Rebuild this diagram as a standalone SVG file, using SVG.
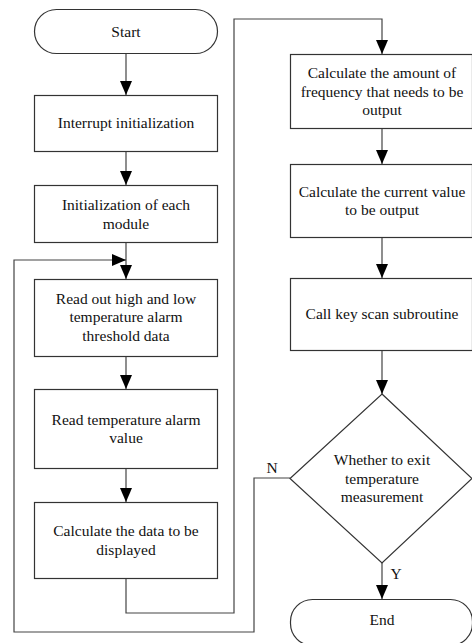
<svg xmlns="http://www.w3.org/2000/svg" width="472" height="643" viewBox="0 0 472 643">
<style>
.box{fill:#fff;stroke:#333;stroke-width:1.2}
.ln{fill:none;stroke:#444;stroke-width:1.2}
text{font-family:"Liberation Serif","Times New Roman",serif;font-size:15.5px;fill:#111;text-anchor:middle}
</style>
<defs>
<marker id="ah" markerUnits="userSpaceOnUse" markerWidth="14" markerHeight="12" refX="14" refY="6" orient="auto" viewBox="0 0 14 12">
<path d="M0,0 L14,6 L0,12 z" fill="#000"/>
</marker>
</defs>
<rect width="472" height="643" fill="#fff"/>
<g id="connectors">
<line class="ln" x1="126" y1="53" x2="126" y2="95" marker-end="url(#ah)"/>
<line class="ln" x1="126" y1="151" x2="126" y2="185" marker-end="url(#ah)"/>
<line class="ln" x1="126" y1="242" x2="126" y2="279" marker-end="url(#ah)"/>
<line class="ln" x1="126" y1="356" x2="126" y2="389" marker-end="url(#ah)"/>
<line class="ln" x1="126" y1="468" x2="126" y2="502" marker-end="url(#ah)"/>
<path class="ln" d="M126,578 V613 H234 V19 H382 V54" marker-end="url(#ah)"/>
<line class="ln" x1="382" y1="128" x2="382" y2="164" marker-end="url(#ah)"/>
<line class="ln" x1="382" y1="237" x2="382" y2="278" marker-end="url(#ah)"/>
<line class="ln" x1="382" y1="350" x2="382" y2="394" marker-end="url(#ah)"/>
<line class="ln" x1="382" y1="563" x2="382" y2="599" marker-end="url(#ah)"/>
<path class="ln" d="M290,478 H254 V632 H14 V260 H126" marker-end="url(#ah)"/>
<text x="272" y="473">N</text>
<text x="396" y="579">Y</text>
</g>
<g id="start">
<rect class="box" x="34.5" y="9.5" width="183" height="44" rx="22" ry="22"/>
<text x="126" y="37">Start</text>
</g>
<g id="interrupt">
<rect class="box" x="34.5" y="95.5" width="183" height="56"/>
<text x="126" y="128">Interrupt initialization</text>
</g>
<g id="init">
<rect class="box" x="34.5" y="185.5" width="183" height="57"/>
<text x="126" y="210">Initialization of each</text>
<text x="126" y="228.5">module</text>
</g>
<g id="readThreshold">
<rect class="box" x="34.5" y="279.5" width="183" height="77"/>
<text x="126" y="303.5">Read out high and low</text>
<text x="126" y="322">temperature alarm</text>
<text x="126" y="340.5">threshold data</text>
</g>
<g id="readAlarm">
<rect class="box" x="34.5" y="389.5" width="183" height="79"/>
<text x="126" y="424.5">Read temperature alarm</text>
<text x="126" y="443">value</text>
</g>
<g id="calcDisplay">
<rect class="box" x="34.5" y="502.5" width="183" height="76"/>
<text x="126" y="536">Calculate the data to be</text>
<text x="126" y="554.5">displayed</text>
</g>
<g id="calcFreq">
<rect class="box" x="290.5" y="54.5" width="182" height="74"/>
<text x="382" y="78">Calculate the amount of</text>
<text x="382" y="96.5">frequency that needs to be</text>
<text x="382" y="115">output</text>
</g>
<g id="calcCurrent">
<rect class="box" x="290.5" y="164.5" width="182" height="73"/>
<text x="382" y="196.5">Calculate the current value</text>
<text x="382" y="215">to be output</text>
</g>
<g id="keyScan">
<rect class="box" x="290.5" y="278.5" width="182" height="72"/>
<text x="382" y="318.5">Call key scan subroutine</text>
</g>
<g id="decision">
<polygon class="box" points="382,394 472,478.5 382,563 290,478.5"/>
<text x="382" y="465">Whether to exit</text>
<text x="382" y="484">temperature</text>
<text x="382" y="502">measurement</text>
</g>
<g id="end">
<rect class="box" x="290.5" y="599.5" width="182" height="46" rx="22" ry="22"/>
<text x="382" y="625">End</text>
</g>
</svg>
